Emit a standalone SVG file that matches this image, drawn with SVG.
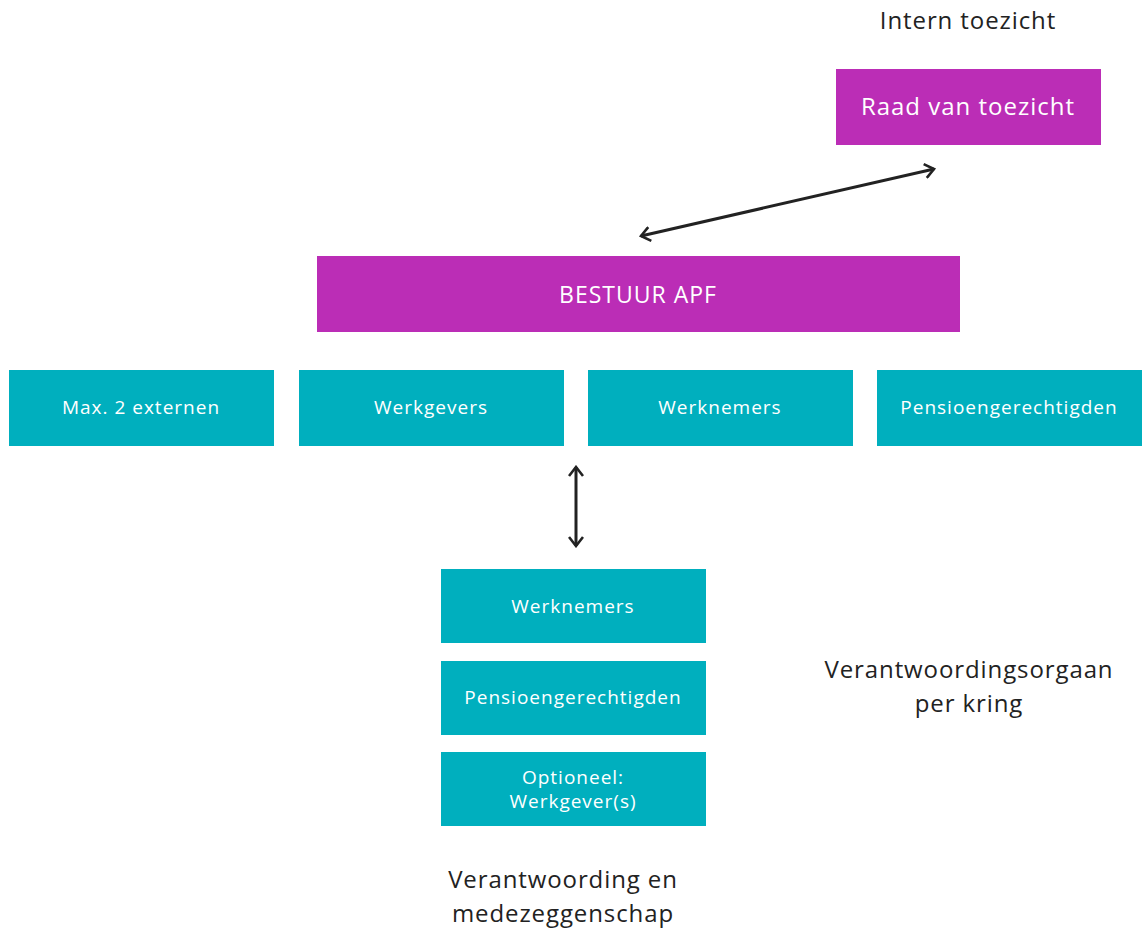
<svg xmlns="http://www.w3.org/2000/svg" width="1145" height="930" viewBox="0 0 1145 930">
<defs>
<style>
.m{fill:#BB2DB6}
.t{fill:#00AFBE}
.w{fill:#fff;font-family:"Open Sans",Lato,sans-serif;text-anchor:middle;letter-spacing:1px}
.k{fill:#222;font-family:"Open Sans",Lato,sans-serif;text-anchor:middle;font-size:24px;letter-spacing:0.9px}
.s{font-size:19px}
.c{stroke:#222;stroke-width:3;fill:none}
</style>
<marker id="a" viewBox="0 0 12 16" refX="10" refY="8" markerWidth="12" markerHeight="16" markerUnits="userSpaceOnUse" orient="auto-start-reverse">
<path d="M1,1 L10,8 L1,15" fill="none" stroke="#222" stroke-width="2.6"/>
</marker>
</defs>
<rect width="1145" height="930" fill="#fff"/>
<text class="k" x="968" y="29">Intern toezicht</text>
<g id="raad"><rect class="m" x="836" y="69" width="265" height="76"/><text class="w" x="968" y="115" font-size="24">Raad van toezicht</text></g>
<g id="bestuur"><rect class="m" x="317" y="256" width="643" height="76"/><text class="w" x="638" y="303" font-size="23">BESTUUR APF</text></g>
<g id="extern"><rect class="t" x="9" y="370" width="265" height="76"/><text class="w s" x="141" y="414">Max. 2 externen</text></g>
<g id="werkgevers"><rect class="t" x="299" y="370" width="265" height="76"/><text class="w s" x="431" y="414">Werkgevers</text></g>
<g id="werknemers"><rect class="t" x="588" y="370" width="265" height="76"/><text class="w s" x="720" y="414">Werknemers</text></g>
<g id="pensioen"><rect class="t" x="877" y="370" width="265" height="76"/><text class="w s" x="1009" y="414">Pensioengerechtigden</text></g>
<g id="vo-werknemers"><rect class="t" x="441" y="569" width="265" height="74"/><text class="w s" x="573" y="613">Werknemers</text></g>
<g id="vo-pensioen"><rect class="t" x="441" y="661" width="265" height="74"/><text class="w s" x="573" y="704">Pensioengerechtigden</text></g>
<g id="vo-werkgevers"><rect class="t" x="441" y="752" width="265" height="74"/><text class="w s" x="573" y="784">Optioneel:</text><text class="w s" x="573" y="808">Werkgever(s)</text></g>
<text class="k" x="969" y="678">Verantwoordingsorgaan</text>
<text class="k" x="969" y="712">per kring</text>
<text class="k" x="563" y="888">Verantwoording en</text>
<text class="k" x="563" y="922">medezeggenschap</text>
<g id="connectors">
<line class="c" x1="641" y1="236" x2="934" y2="169" marker-start="url(#a)" marker-end="url(#a)"/>
<line class="c" x1="576" y1="467" x2="576" y2="546" marker-start="url(#a)" marker-end="url(#a)"/>
</g>
</svg>
